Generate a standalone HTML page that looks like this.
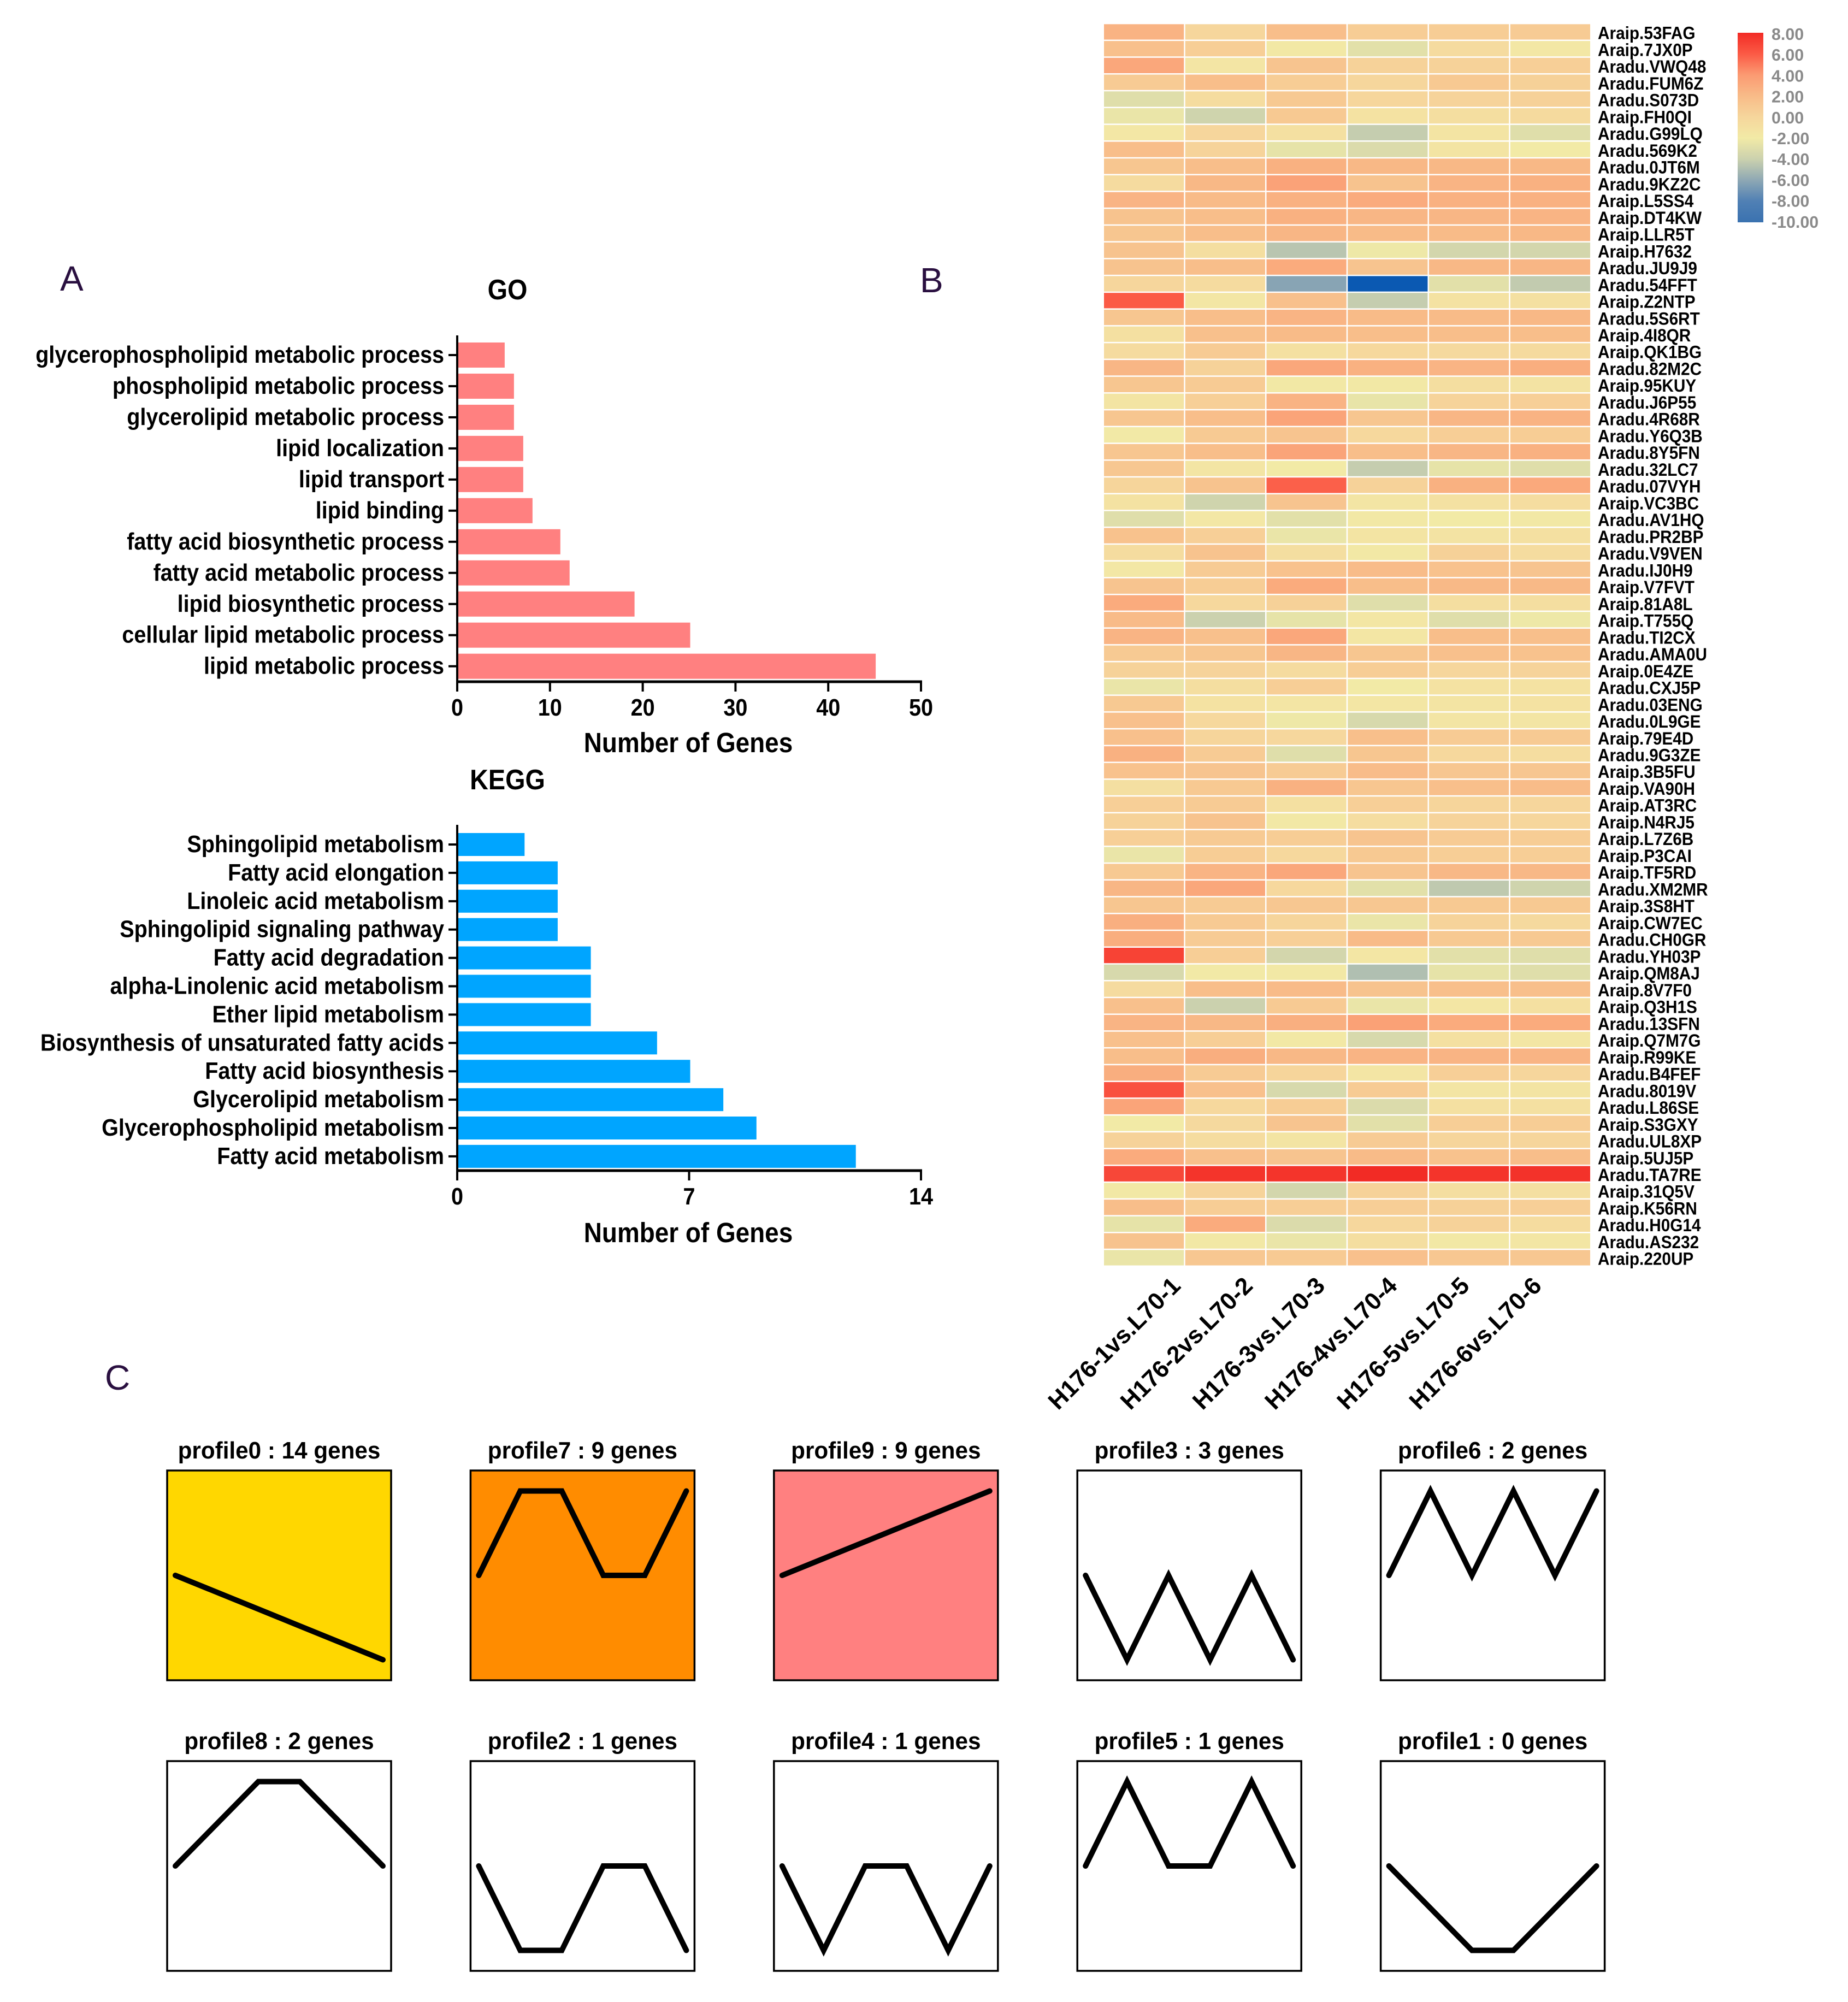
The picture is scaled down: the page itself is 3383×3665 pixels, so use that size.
<!DOCTYPE html>
<html lang="en">
<head>
<meta charset="utf-8">
<title>Lipid gene enrichment, heatmap and expression profiles</title>
<style>
html,body{margin:0;padding:0;background:#fff;}
#figure{display:block;font-family:"Liberation Sans",Arial,sans-serif;}
</style>
</head>
<body>
<svg id="figure" xmlns="http://www.w3.org/2000/svg" width="3383" height="3665" viewBox="0 0 3383 3665">
<rect x="0" y="0" width="3383" height="3665" fill="#ffffff"/>
<defs><linearGradient id="legendGradient" x1="0" y1="0" x2="0" y2="1"></linearGradient></defs>
<text x="110" y="532" font-size="64" fill="#2a1040">A</text>
<text x="1684" y="535" font-size="64" fill="#2a1040">B</text>
<text x="192" y="2544" font-size="64" fill="#2a1040">C</text>
</svg>
<script>
// ---------- Bar chart data ----------
const goCategories = ["glycerophospholipid metabolic process","phospholipid metabolic process","glycerolipid metabolic process","lipid localization","lipid transport","lipid binding","fatty acid biosynthetic process","fatty acid metabolic process","lipid biosynthetic process","cellular lipid metabolic process","lipid metabolic process"];
const goValues = [5,6,6,7,7,8,11,12,19,25,45];
const goTicks = [0,10,20,30,40,50];
const keggCategories = ["Sphingolipid metabolism","Fatty acid elongation","Linoleic acid metabolism","Sphingolipid signaling pathway","Fatty acid degradation","alpha-Linolenic acid metabolism","Ether lipid metabolism","Biosynthesis of unsaturated fatty acids","Fatty acid biosynthesis","Glycerolipid metabolism","Glycerophospholipid metabolism","Fatty acid metabolism"];
const keggValues = [2,3,3,3,4,4,4,6,7,8,9,12];
const keggTicks = [0,7,14];

// ---------- Heatmap data ----------
const geneLabels = ["Araip.53FAG","Araip.7JX0P","Aradu.VWQ48","Aradu.FUM6Z","Aradu.S073D","Araip.FH0QI","Aradu.G99LQ","Aradu.569K2","Aradu.0JT6M","Aradu.9KZ2C","Araip.L5SS4","Araip.DT4KW","Araip.LLR5T","Araip.H7632","Aradu.JU9J9","Aradu.54FFT","Araip.Z2NTP","Aradu.5S6RT","Araip.4I8QR","Araip.QK1BG","Aradu.82M2C","Araip.95KUY","Aradu.J6P55","Aradu.4R68R","Aradu.Y6Q3B","Aradu.8Y5FN","Aradu.32LC7","Aradu.07VYH","Araip.VC3BC","Aradu.AV1HQ","Aradu.PR2BP","Aradu.V9VEN","Aradu.IJ0H9","Araip.V7FVT","Araip.81A8L","Araip.T755Q","Aradu.TI2CX","Aradu.AMA0U","Araip.0E4ZE","Aradu.CXJ5P","Aradu.03ENG","Aradu.0L9GE","Araip.79E4D","Aradu.9G3ZE","Araip.3B5FU","Araip.VA90H","Araip.AT3RC","Araip.N4RJ5","Araip.L7Z6B","Araip.P3CAI","Araip.TF5RD","Aradu.XM2MR","Araip.3S8HT","Araip.CW7EC","Aradu.CH0GR","Aradu.YH03P","Araip.QM8AJ","Araip.8V7F0","Araip.Q3H1S","Aradu.13SFN","Araip.Q7M7G","Araip.R99KE","Aradu.B4FEF","Aradu.8019V","Aradu.L86SE","Araip.S3GXY","Aradu.UL8XP","Araip.5UJ5P","Aradu.TA7RE","Araip.31Q5V","Araip.K56RN","Aradu.H0G14","Aradu.AS232","Araip.220UP"];
const sampleLabels = ["H176-1vs.L70-1","H176-2vs.L70-2","H176-3vs.L70-3","H176-4vs.L70-4","H176-5vs.L70-5","H176-6vs.L70-6"];
const heatValues = [
[2.5,0,1.8,0.7,0.7,0.8],[1.6,0.6,-1.8,-2.8,-0.5,-1.7],[3.2,-1.5,1.3,0.3,0.3,0.5],[0.8,1.8,0.7,0,1,0.4],
[-3,-0.6,1,0,0.2,0.4],[-2.4,-3.8,1,-1.2,-0.8,-0.4],[-1.7,0,-1,-4.2,-1.4,-3],[1.8,0.2,-2.6,-3.2,-1.4,-2],
[1.2,1.8,2.6,2.2,2.2,2.2],[-0.5,2.2,3.5,1.4,2.4,2.6],[2.4,2,2.6,3,2.6,2.6],[1.4,1.8,2.6,2.3,2.3,2.4],
[1.2,1.8,2.3,2,2,2.2],[1.4,-0.8,-4.6,-2.2,-3.6,-3.6],[1.4,1.8,3,1.3,2.2,2.3],[0,-0.5,-6.2,-10,-2.8,-4.3],
[6,-1.6,1.6,-4.2,-1.2,-1],[1.2,1.8,2.4,2,2,2.2],[-1,1.6,2,1.8,1.8,1.8],[-0.5,0.8,-1,-0.2,-0.3,-0.4],
[2.3,0.3,3.2,2.6,2.4,2.8],[1.2,0.8,-1.8,-1.8,-0.8,-1.3],[-1.4,0.5,2.5,-2.5,0.2,0.5],[1.2,1.8,3.4,1.2,2.3,2.5],
[-1.9,0.9,1.3,-0.2,0.6,0.7],[1.2,1.8,3.4,1.8,2.3,2.6],[1.1,-1.5,-2,-4.2,-2.6,-3],[0.1,1.4,5.8,0.3,2.6,3.1],
[-1.2,-3.8,1.3,-1.5,-1.1,-0.7],[-3,-1.7,-2.8,-1.8,-2,-1.8],[1.5,0.5,-2.4,-1.4,-1.3,-1],[-0.6,1.4,-0.8,-1.8,0.4,-0.6],
[-1.7,0.8,1.5,1.9,1.5,1.3],[1.3,0.7,3,1.8,2.1,2.1],[3,-0.2,0.4,-3,-0.8,-0.8],[2,-4,-2.6,-1.6,-3,-2.2],
[2.4,1.6,3.2,-1.6,1.8,1.7],[0.9,1.2,2.3,1.2,1.6,1.5],[0.3,0.2,-0.5,0.7,0,0.2],[-2.4,-0.8,0.6,-2,-1.2,-1.2],
[1,-1.2,-1.5,-1.6,-1.4,-1.2],[1.6,-0.2,-2.2,-3.4,-1.5,-1.5],[1.6,0.1,-0.1,1.7,0.8,0.9],[2.6,0.8,-3,1.2,-0.2,-0.7],
[1.5,1.3,0.8,1.9,1.2,1.2],[-0.9,1,2.6,1.2,1.7,1.9],[0.5,0.8,-1,0.5,0.1,0],[0.3,1.4,-1.8,-0.7,0.2,0],
[0.5,0.9,0.7,1.3,0.8,0.7],[-2.4,0.7,-0.2,1,0.6,0.6],[1,2.4,3.2,1.3,2.2,2.2],[2.3,3.2,-0.2,-2.8,-4.4,-3.8],
[1.2,0.8,1.1,1.1,1,1],[2.7,0.9,0.1,-2.4,0.2,-0.3],[2.8,0.8,0.5,2,1,1],[7,0.6,-3.6,-1.6,-2.8,-3],
[-3.4,-1.9,-1.8,-4.9,-2.6,-3],[-0.5,1.8,2,1.4,1.7,1.7],[1.6,-4,0.9,-2.4,-1.6,-1],[2.4,2.2,2.7,3.6,3,3],
[1.6,0.6,-1.8,-3.4,-1,-1.6],[1.8,2.8,2.2,2.4,2.4,2.4],[2.8,0.8,0.1,-1.5,0.5,0],[6.4,1.6,-3.4,0.8,-1.5,-1.4],
[3.4,-0.2,0.7,-3.2,-1,-1],[-2,-0.3,1.3,-2.8,0.6,0.7],[0.3,-0.6,-1.4,0.8,0.1,0.1],[3,1.6,1.3,2,1.5,1.8],
[6.8,7.6,7.6,8,7.6,7.7],[-1.8,0.2,-3.6,0.3,-0.8,-0.9],[1.8,0.7,0.6,0.6,0.4,0.5],[-2.6,3,-3.2,-0.1,0.3,-0.6],
[1.4,-1.8,-2.4,-0.8,-1.8,-1.6],[-2.4,1.1,0.9,1.6,1.1,1.1]
];
const legendTicks = ["8.00","6.00","4.00","2.00","0.00","-2.00","-4.00","-6.00","-8.00","-10.00"];
const scaleValues = [8,6,4,2,0,-2,-4,-6,-8,-10];
const scaleColors = ["#f22b25","#fb5a45","#fb9a72","#f8bb88","#f6d69c","#f2eaa6","#cbd1ae","#8ea8b4","#5080b4","#0b59b2"];

// ---------- Profile data ----------
const profileNames = ["profile0 : 14 genes","profile7 : 9 genes","profile9 : 9 genes","profile3 : 3 genes","profile6 : 2 genes","profile8 : 2 genes","profile2 : 1 genes","profile4 : 1 genes","profile5 : 1 genes","profile1 : 0 genes"];
const profileSeries = [
[0,-0.2,-0.4,-0.6,-0.8,-1],[0,1,1,0,0,1],[0,0.2,0.4,0.6,0.8,1],[0,-1,0,-1,0,-1],[0,1,0,1,0,1],
[0,0.5,1,1,0.5,0],[0,-1,-1,0,0,-1],[0,-1,0,0,-1,0],[0,1,0,0,1,0],[0,-0.5,-1,-1,-0.5,0]
];
const profileFills = ["#ffd700","#ff8c00","#ff8080","#ffffff","#ffffff","#ffffff","#ffffff","#ffffff","#ffffff","#ffffff"];

const NS = "http://www.w3.org/2000/svg";
const svg = document.getElementById("figure");
function make(tag, attrs, parent, text) {
  const node = document.createElementNS(NS, tag);
  for (const k in attrs) node.setAttribute(k, attrs[k]);
  if (text !== undefined) node.textContent = text;
  (parent || svg).appendChild(node);
  return node;
}
// Bold text, horizontally condensed so glyphs look as tall and narrow as the reference.
function tallText(parent, x, y, str, size, sx, anchor, fill) {
  return make("text", {transform: "translate(" + x + " " + y + ") scale(" + sx + " 1)", x: 0, y: 0, "text-anchor": anchor, "font-size": size, "font-weight": "bold", fill: fill || "#000"}, parent, str);
}
function slug(s) { return s.toLowerCase().replace(/[^a-z0-9]+/g, "-").replace(/^-|-$/g, ""); }

function drawBarChart(key, title, titleY, categories, values, ticks, color, x0, xEnd, yTop, yBase, firstCenter, pitch, barH, tickBase, axisTitleBase) {
  const g = make("g", {});
  
  
  const xMax = ticks[ticks.length - 1];
  const xScale = v => x0 + (v / xMax) * (xEnd - x0);
  const yScale = i => firstCenter + i * pitch;

  const t = tallText(g, 929, titleY, title, 52, 0.9, "middle");
  
  

  categories.forEach((c, i) => {
    const bar = make("rect", {x: xScale(0), y: yScale(i) - barH / 2, width: xScale(values[i]) - xScale(0) + 2, height: barH, fill: color}, g);
    
    
    const tick = make("line", {x1: x0 - 16, x2: x0, y1: yScale(i), y2: yScale(i), stroke: "#000", "stroke-width": 4}, g);
    
    
    const lab = tallText(g, x0 - 24, yScale(i) + 14, c, 44, 0.9, "end");
    
    
  });

  const yAxis = make("line", {x1: x0, x2: x0, y1: yTop, y2: yBase + 2, stroke: "#000", "stroke-width": 4}, g);
  
  
  const xAxis = make("line", {x1: x0 - 2, x2: xEnd + 2, y1: yBase, y2: yBase, stroke: "#000", "stroke-width": 5}, g);
  
  

  ticks.forEach(v => {
    const tk = make("line", {x1: xScale(v), x2: xScale(v), y1: yBase, y2: yBase + 18, stroke: "#000", "stroke-width": 4}, g);
    
    
    const tl = tallText(g, xScale(v), tickBase, String(v), 44, 0.9, "middle");
    
    
  });

  const at = tallText(g, 1260, axisTitleBase, "Number of Genes", 51, 0.9, "middle");
  
  
}

drawBarChart("go", "GO", 548, goCategories, goValues, goTicks, "#ff8080", 837, 1686, 614, 1248, 650, 56.97, 46, 1310, 1377);
drawBarChart("kegg", "KEGG", 1445, keggCategories, keggValues, keggTicks, "#00a5ff", 837, 1686, 1510, 2143, 1546, 51.9, 42, 2205, 2274);

// ---------- Heatmap ----------
function hexToRgb(h) { return [1, 3, 5].map(i => parseInt(h.substr(i, 2), 16)); }
function colorFor(v) {
  if (v >= scaleValues[0]) return scaleColors[0];
  for (let i = 0; i < scaleValues.length - 1; i++) {
    if (v <= scaleValues[i] && v >= scaleValues[i + 1]) {
      const f = (scaleValues[i] - v) / (scaleValues[i] - scaleValues[i + 1]);
      const a = hexToRgb(scaleColors[i]), b = hexToRgb(scaleColors[i + 1]);
      return "rgb(" + a.map((c, k) => Math.round(c + (b[k] - c) * f)).join(",") + ")";
    }
  }
  return scaleColors[scaleColors.length - 1];
}
const heatLeft = 2021, heatTop = 44.3, cellW = 148.75, cellH = 30.74, heatGap = 2.5;
const colX = c => heatLeft + c * cellW;
const rowY = r => heatTop + r * cellH;
const heat = make("g", {});


heatValues.forEach((row, r) => {
  row.forEach((v, c) => {
    const cell = make("rect", {x: colX(c), y: rowY(r), width: cellW - heatGap, height: cellH - heatGap, fill: colorFor(v)}, heat);
    
    
  });
  const lab = tallText(heat, 2925, rowY(r) + cellH / 2 + 12, geneLabels[r], 32, 0.93, "start");
  
  
});
sampleLabels.forEach((s, i) => {
  const px = 1937 + i * 132.2, py = 2583;
  const lab = make("text", {x: px, y: py, transform: "rotate(-45 " + px + " " + py + ")", "font-size": 44, "font-weight": "bold", fill: "#000"}, heat, s);
  
  
});

// ---------- Colour legend ----------
const grad = document.getElementById("legendGradient");
scaleValues.forEach((v, i) => {
  make("stop", {offset: (scaleValues[0] - v) / (scaleValues[0] - scaleValues[scaleValues.length - 1]), "stop-color": i === scaleColors.length - 1 ? "#3a72b0" : scaleColors[i]}, grad);
});
const legendBar = make("rect", {x: 3181, y: 60, width: 47, height: 347, fill: "url(#legendGradient)"});


legendTicks.forEach((t, i) => {
  const lab = tallText(svg, 3243, 62 + i * 38.2 + 11, t, 31, 0.98, "start", "#8a8a8a");
  
  
});

// ---------- Profile panels ----------
const boxW = 410, boxH = 384, boxPitchX = 555.4, boxLeft = 306, rowTops = [2692, 3224], perRow = 5;
profileNames.forEach((name, i) => {
  const bx = boxLeft + (i % perRow) * boxPitchX;
  const by = rowTops[Math.floor(i / perRow)];
  const g = make("g", {});
  
  
  const box = make("rect", {x: bx, y: by, width: boxW, height: boxH, fill: profileFills[i], stroke: "#000", "stroke-width": 3.5}, g);
  
  
  const title = tallText(g, bx + boxW / 2, by - 22, name, 44, 0.96, "middle");
  
  
  const series = profileSeries[i];
  const px = k => bx + 15 + k * (boxW - 30) / (series.length - 1);
  const py = v => by + 192 - v * 154.5;
  const pts = series.map((v, k) => px(k) + "," + py(v)).join(" ");
  const line = make("polyline", {points: pts, fill: "none", stroke: "#000", "stroke-width": 10, "stroke-linejoin": "miter", "stroke-linecap": "round"}, g);
  
  
});
</script>
</body>
</html>
